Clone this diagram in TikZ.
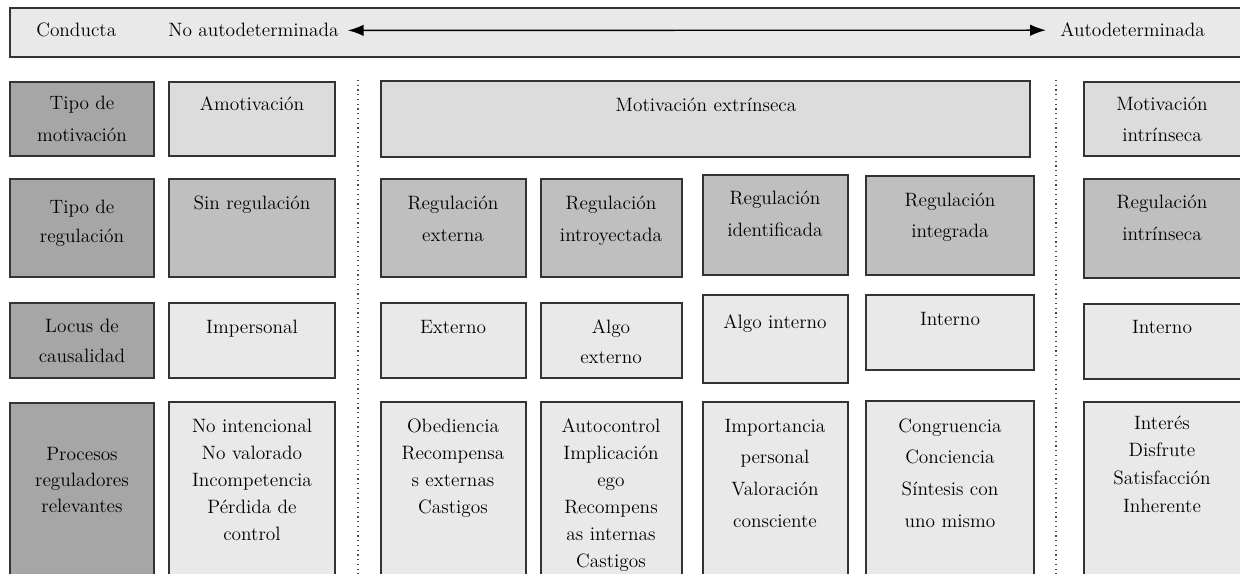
\documentclass[tikz,border=0pt]{standalone}
\usepackage{tikz}
\usetikzlibrary{positioning}
\usetikzlibrary{arrows.meta}

\definecolor{headgray}{HTML}{A6A6A6}
\definecolor{reggray}{HTML}{BFBFBF}
\definecolor{motgray}{HTML}{DCDCDC}
\definecolor{palegray}{HTML}{E9E9E9}

\begin{document}
\begin{tikzpicture}[
x=0.02cm, y=-0.02cm,
headbox/.style={draw=black!80, line width=1.1pt, fill=headgray},
regbox/.style={draw=black!80, line width=1.1pt, fill=reggray},
motbox/.style={draw=black!80, line width=1.1pt, fill=motgray},
palebox/.style={draw=black!80, line width=1.1pt, fill=palegray},
celltext/.style={align=center, text width=3cm, anchor=base, inner sep=0pt, font=\fontsize{11}{#1}\selectfont},
celltext/.default=18.2pt,
toptext/.style={anchor=base west, inner sep=0pt, font=\fontsize{11}{13}\selectfont},
scalearrow/.style={{Latex[length=9pt,width=6.5pt]}-{Latex[length=9pt,width=6.5pt]}, line width=0.8pt},
divider/.style={dotted, line width=0.7pt, black!70}
]
\clip (0,0) rectangle (1240,574);
\fill[white] (0,0) rectangle (1240,574);

%Top bar
\draw[palebox] (10,8) rectangle (1246,57);
\node[toptext] (conducta) at (36,37)   {Conducta};
\node[toptext] (noauto)   at (168,37)  {No autodeterminada};
\node[toptext] (auto)     at (1060,37) {Autodeterminada};
\draw[scalearrow, shorten <=5pt, shorten >=8pt] (noauto.east) -- (auto.west);

%Dividers
\coordinate (d1top) at (358,80);
\coordinate (d1bot) at (358,580);
\coordinate (d2top) at (1056,80);
\coordinate (d2bot) at (1056,580);
\draw[divider] (d1top) -- (d1bot);
\draw[divider] (d2top) -- (d2bot);

%Row 1: tipo de motivacion
\draw[headbox] (10,82) rectangle (154,156);
\draw[motbox]  (169,82) rectangle (335,156);
\draw[motbox]  (381,81) rectangle (1030,157);
\draw[motbox]  (1084,82) rectangle (1246,156);
\node[celltext]          (tipomot) at (82,110)   {Tipo de\\motivación};
\node[celltext]          (amot)    at (252,111)  {Amotivación};
\node[celltext, text width=6cm] (mext) at (706,112) {Motivación extrínseca};
\node[celltext=17.6pt]   (mint)    at (1162,111) {Motivación\\intrínseca};

%Row 2: tipo de regulacion
\draw[headbox] (10,179) rectangle (154,277);
\draw[regbox]  (169,179) rectangle (335,277);
\draw[regbox]  (381,179) rectangle (526,277);
\draw[regbox]  (541,179) rectangle (682,277);
\draw[regbox]  (703,175) rectangle (848,275);
\draw[regbox]  (866,176) rectangle (1034,275);
\draw[regbox]  (1084,179) rectangle (1246,278);
\node[celltext=16.5pt]   (tiporeg)  at (82,214)   {Tipo de\\regulación};
\node[celltext]          (sinreg)   at (252,210)  {Sin regulación};
\node[celltext]          (regext)   at (453,210)  {Regulación\\externa};
\node[celltext]          (regintro) at (611,210)  {Regulación\\introyectada};
\node[celltext]          (regident) at (775,205)  {Regulación\\identificada};
\node[celltext=17.6pt]   (reginteg) at (950,207)  {Regulación\\integrada};
\node[celltext]          (regintr)  at (1162,209) {Regulación\\intrínseca};

%Row 3: locus de causalidad
\draw[headbox] (10,303) rectangle (154,378);
\draw[palebox] (169,303) rectangle (335,378);
\draw[palebox] (381,303) rectangle (526,378);
\draw[palebox] (541,303) rectangle (682,378);
\draw[palebox] (703,295) rectangle (848,383);
\draw[palebox] (866,295) rectangle (1034,370);
\draw[palebox] (1084,304) rectangle (1246,379);
\node[celltext=17.1pt]   (locus)   at (82,332)   {Locus de\\causalidad};
\node[celltext]          (imper)   at (252,333)  {Impersonal};
\node[celltext]          (externo) at (453,333)  {Externo};
\node[celltext=17.1pt]   (algoext) at (611,333)  {Algo\\externo};
\node[celltext]          (algoint) at (775,328)  {Algo interno};
\node[celltext]          (intA)    at (950,325)  {Interno};
\node[celltext]          (intB)    at (1162,333) {Interno};

%Row 4: procesos reguladores
\draw[headbox] (10,403) rectangle (154,580);
\draw[palebox] (169,402) rectangle (335,580);
\draw[palebox] (381,402) rectangle (526,580);
\draw[palebox] (541,402) rectangle (682,580);
\draw[palebox] (703,402) rectangle (848,580);
\draw[palebox] (866,401) rectangle (1034,580);
\draw[palebox] (1084,402) rectangle (1246,580);
\node[celltext=14.8pt]   (procesos) at (82,460)   {Procesos\\reguladores\\relevantes};
\node[celltext=15.4pt]   (noint)    at (252,432)  {No intencional\\No valorado\\Incompetencia\\Pérdida de\\control};
\node[celltext=15.4pt]   (obed)     at (453,432)  {Obediencia\\Recompensa\\s externas\\Castigos};
\node[celltext=15.4pt]   (autoc)    at (611,432)  {Autocontrol\\Implicación\\ego\\Recompens\\as internas\\Castigos};
\node[celltext]          (import)   at (775,432)  {Importancia\\personal\\Valoración\\consciente};
\node[celltext]          (congr)    at (950,432)  {Congruencia\\Conciencia\\Síntesis con\\uno mismo};
\node[celltext=15.9pt]   (interes)  at (1162,429) {Interés\\Disfrute\\Satisfacción\\Inherente};

\end{tikzpicture}
\end{document}
